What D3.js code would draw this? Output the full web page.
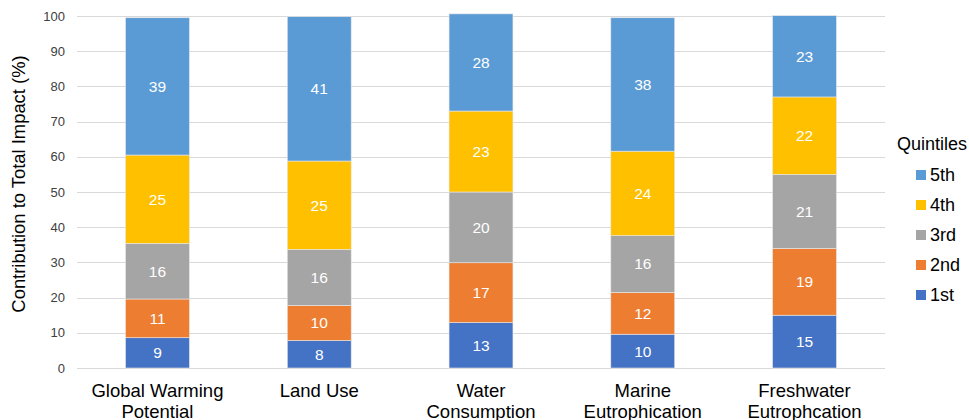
<!DOCTYPE html>
<html>
<head>
<meta charset="utf-8">
<script src="https://cdn.jsdelivr.net/npm/d3@7"></script>
<style>
  body { margin: 0; background: #fff; }
  svg { font-family: "Liberation Sans", Arial, sans-serif; }
</style>
</head>
<body>
<div id="chart"></div>
<script>
// categories (two-line labels)
const categories = [
    ["Global Warming", "Potential"],
    ["Land Use"],
    ["Water", "Consumption"],
    ["Marine", "Eutrophication"],
    ["Freshwater", "Eutrophcation"]
];

// quintile shares per category (%)
const q1 = [8.6, 7.8, 12.9, 9.6, 15.0];
const q2 = [11.0, 10.0, 17.0, 11.9, 19.0];
const q3 = [15.8, 15.9, 20.1, 16.1, 21.0];
const q4 = [25.1, 25.1, 23.0, 24.0, 22.0];
const q5 = [39.0, 41.0, 27.6, 37.9, 23.1];

const seriesNames = ["1st", "2nd", "3rd", "4th", "5th"];
const seriesColors = ["#4472C4", "#ED7D31", "#A5A5A5", "#FFC000", "#5B9BD5"];
const yTicks = [0, 10, 20, 30, 40, 50, 60, 70, 80, 90, 100];

const width = 969, height = 420;
const margin = { top: 16, right: 84, bottom: 52, left: 77 };

const svg = d3.select("#chart").append("svg")
    .attr("width", width)
    .attr("height", height);

const rows = categories.map((c, i) => ({
    key: i, "1st": q1[i], "2nd": q2[i], "3rd": q3[i], "4th": q4[i], "5th": q5[i]
}));

const stack = d3.stack().keys(seriesNames)(rows);

const x = d3.scaleBand()
    .domain(d3.range(categories.length))
    .range([margin.left, width - margin.right])
    .paddingInner(0.605)
    .paddingOuter(0.3);

const y = d3.scaleLinear()
    .domain([0, 100])
    .range([height - margin.bottom, margin.top]);

const color = d3.scaleOrdinal().domain(seriesNames).range(seriesColors);

// gridlines
svg.append("g")
    .selectAll("line")
    .data(yTicks)
    .join("line")
    .attr("x1", margin.left)
    .attr("x2", width - margin.right)
    .attr("y1", d => Math.round(y(d)) + 0.5)
    .attr("y2", d => Math.round(y(d)) + 0.5)
    .attr("stroke", "#d9d9d9")
    .attr("stroke-width", 1);

// tick labels
svg.append("g")
    .selectAll("text")
    .data(yTicks)
    .join("text")
    .attr("x", margin.left - 12)
    .attr("y", d => y(d))
    .attr("dy", "0.35em")
    .attr("text-anchor", "end")
    .attr("font-size", 13)
    .attr("fill", "#404040")
    .text(d => d);

// bars
const layers = svg.append("g")
    .selectAll("g")
    .data(stack)
    .join("g")
    .attr("fill", d => color(d.key));

layers.selectAll("rect")
    .data(d => d)
    .join("rect")
    .attr("x", d => x(d.data.key))
    .attr("width", x.bandwidth())
    .attr("y", d => y(d[1]))
    .attr("height", d => y(d[0]) - y(d[1]))
    .attr("stroke", "#e8e8e8")
    .attr("stroke-width", 0.6);

// value labels
layers.selectAll("text")
    .data(d => d)
    .join("text")
    .attr("x", d => x(d.data.key) + x.bandwidth() / 2)
    .attr("y", d => (y(d[0]) + y(d[1])) / 2)
    .attr("dy", "0.35em")
    .attr("text-anchor", "middle")
    .attr("font-size", 15.5)
    .attr("fill", "#fff")
    .text(d => d3.format(".0f")(d[1] - d[0]));

// category labels
const cat = svg.append("g")
    .selectAll("text")
    .data(categories)
    .join("text")
    .attr("x", (d, i) => x(i) + x.bandwidth() / 2)
    .attr("y", 397)
    .attr("text-anchor", "middle")
    .attr("font-size", 18.5)
    .attr("fill", "#000");

cat.selectAll("tspan")
    .data(d => d)
    .join("tspan")
    .attr("x", function () { return d3.select(this.parentNode).attr("x"); })
    .attr("dy", (d, i) => i === 0 ? 0 : 21)
    .text(d => d);

// y axis title
svg.append("text")
    .attr("transform", "translate(25,184) rotate(-90)")
    .attr("text-anchor", "middle")
    .attr("font-size", 18.4)
    .attr("fill", "#000")
    .text("Contribution to Total Impact (%)");

// legend
const legend = svg.append("g").attr("transform", "translate(897,0)");

legend.append("text")
    .attr("x", 0)
    .attr("y", 150)
    .attr("font-size", 18)
    .attr("fill", "#000")
    .text("Quintiles");

const items = legend.selectAll("g.item")
    .data(seriesNames.slice().reverse())
    .join("g")
    .attr("class", "item")
    .attr("transform", (d, i) => `translate(19,${175 + i * 30})`);

items.append("rect")
    .attr("x", 0)
    .attr("y", -5)
    .attr("width", 10)
    .attr("height", 10)
    .attr("fill", d => color(d));

items.append("text")
    .attr("x", 14)
    .attr("y", 0)
    .attr("dy", "0.35em")
    .attr("font-size", 18)
    .attr("fill", "#000")
    .text(d => d);
</script>
</body>
</html>
